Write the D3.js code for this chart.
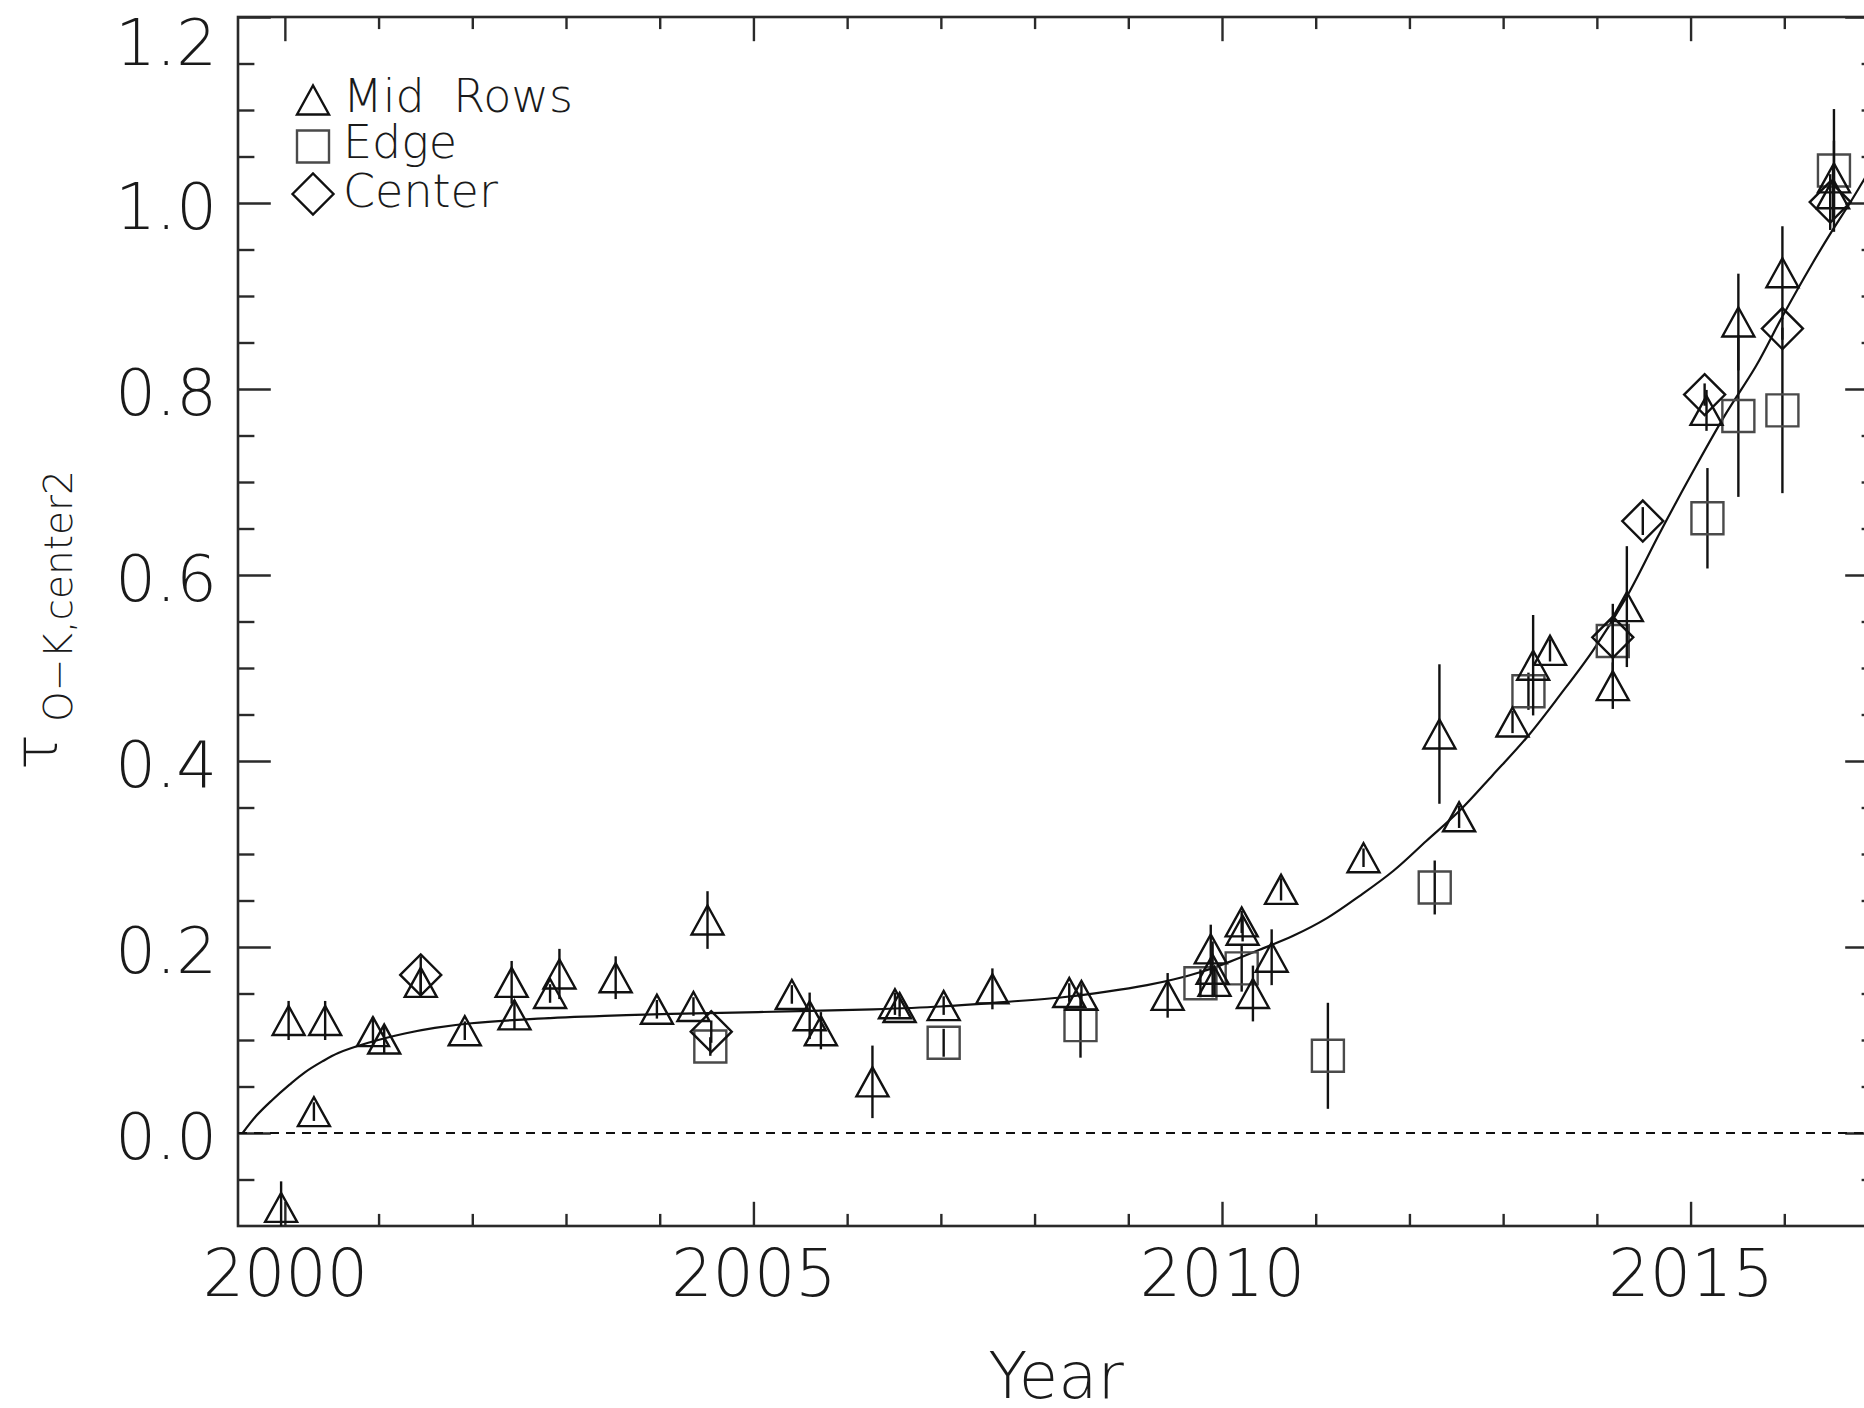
<!DOCTYPE html>
<html>
<head>
<meta charset="utf-8">
<script src="https://cdn.jsdelivr.net/npm/d3@7"></script>
<style>
  html, body { margin: 0; padding: 0; background: #fff; }
  svg { display: block; }
  text { font-family: "DejaVu Sans", "Liberation Sans", sans-serif; font-weight: 200; fill: #1a1a1a; }
</style>
</head>
<body>
<svg id="chart" width="1864" height="1408"></svg>
<script>
// Measurements: [year, tau, 1-sigma error]
const midRows = [
  [1999.96, -0.080, 0.028], [2000.04, 0.121, 0.021], [2000.43, 0.121, 0.021],
  [2000.31, 0.023, 0.010], [2000.94, 0.109, 0.016], [2001.06, 0.101, 0.015],
  [2001.45, 0.162, 0.015], [2001.92, 0.110, 0.010], [2002.42, 0.162, 0.023],
  [2002.45, 0.127, 0.016], [2002.83, 0.150, 0.010], [2002.93, 0.171, 0.027],
  [2003.53, 0.167, 0.023], [2003.97, 0.133, 0.010], [2004.36, 0.136, 0.010],
  [2004.51, 0.229, 0.031], [2005.41, 0.149, 0.010], [2005.60, 0.126, 0.025],
  [2005.72, 0.110, 0.020], [2006.27, 0.055, 0.039], [2006.51, 0.139, 0.012],
  [2006.56, 0.135, 0.010], [2007.03, 0.137, 0.010], [2007.55, 0.155, 0.022],
  [2008.37, 0.151, 0.010], [2008.50, 0.148, 0.012], [2009.42, 0.148, 0.024],
  [2009.88, 0.198, 0.026], [2009.90, 0.176, 0.030], [2009.92, 0.163, 0.015],
  [2010.21, 0.227, 0.012], [2010.22, 0.218, 0.012], [2010.33, 0.150, 0.030],
  [2010.53, 0.189, 0.030], [2010.63, 0.262, 0.012], [2011.51, 0.296, 0.010],
  [2012.32, 0.429, 0.075], [2012.53, 0.340, 0.012], [2013.10, 0.442, 0.012],
  [2013.32, 0.503, 0.054], [2013.50, 0.519, 0.012], [2014.17, 0.481, 0.025],
  [2014.32, 0.566, 0.065], [2015.17, 0.777, 0.022], [2015.51, 0.872, 0.052],
  [2015.98, 0.925, 0.050], [2016.53, 1.027, 0.040], [2016.52, 1.010, 0.030]
];
const edge = [
  [2004.54, 0.093, 0.010], [2007.03, 0.097, 0.015], [2008.49, 0.116, 0.035],
  [2009.77, 0.161, 0.015], [2010.21, 0.177, 0.025], [2011.13, 0.083, 0.057],
  [2012.27, 0.264, 0.029], [2013.27, 0.475, 0.020], [2014.17, 0.529, 0.040],
  [2015.18, 0.661, 0.054], [2015.51, 0.771, 0.087], [2015.98, 0.777, 0.089],
  [2016.53, 1.035, 0.066]
];
const center = [
  [2001.45, 0.170, 0.020], [2004.55, 0.109, 0.012], [2014.17, 0.533, 0.020],
  [2014.49, 0.658, 0.015], [2015.15, 0.794, 0.012], [2015.98, 0.865, 0.012],
  [2016.49, 1.001, 0.030]
];

// Fitted trend: [year, tau]
const fitCurve = [
  [1999.55, 0.000], [1999.70, 0.019], [1999.86, 0.035], [2000.05, 0.052],
  [2000.21, 0.065], [2000.40, 0.077], [2000.57, 0.086], [2000.89, 0.097],
  [2001.28, 0.107], [2001.60, 0.113], [2001.99, 0.118], [2002.70, 0.123],
  [2003.41, 0.126], [2004.12, 0.128], [2005.05, 0.130], [2006.28, 0.133],
  [2007.00, 0.136], [2007.70, 0.141], [2008.30, 0.146], [2008.77, 0.152],
  [2009.20, 0.159], [2009.48, 0.165], [2009.80, 0.174], [2010.08, 0.184],
  [2010.40, 0.197], [2010.76, 0.212], [2011.12, 0.231], [2011.47, 0.255],
  [2011.83, 0.282], [2012.18, 0.314], [2012.54, 0.347], [2012.89, 0.385],
  [2013.25, 0.425], [2013.60, 0.470], [2013.96, 0.519], [2014.32, 0.577],
  [2014.67, 0.645], [2015.03, 0.712], [2015.38, 0.774], [2015.70, 0.825],
  [2015.98, 0.878], [2016.30, 0.935], [2016.51, 0.970], [2016.70, 1.000],
  [2016.85, 1.025], [2017.00, 1.050]
];

const xMajorTicks = [2000, 2005, 2010, 2015];
const yMajorTicks = [0.0, 0.2, 0.4, 0.6, 0.8, 1.0, 1.2];
const legendLabels = ["Mid Rows", "Edge", "Center"];
const xTitle = "Year";

// ---- layout ----
const plot = { left: 238, right: 1878, top: 17, bottom: 1226 };
const x = d3.scaleLinear().domain([1999.5, 2017]).range([plot.left, plot.right]);
const y = d3.scaleLinear().domain([-0.1, 1.2]).range([plot.bottom, plot.top]);
const H = plot.bottom - plot.top, W = plot.right - plot.left;
const xMajorLen = 24.2, xMinorLen = 12.1, yMajorLen = 32.8, yMinorLen = 16.4;

const svg = d3.select("#chart");

svg.append("defs").append("clipPath").attr("id", "plotClip")
  .append("rect").attr("x", plot.left).attr("y", plot.top).attr("width", W).attr("height", H);

const xMinorTicks = d3.range(2000, 2018).filter(v => !xMajorTicks.includes(v));
const yMinorTicks = d3.range(-0.05, 1.2, 0.05).map(v => +v.toFixed(2))
  .filter(v => !yMajorTicks.some(m => Math.abs(m - v) < 1e-6));

function styleAxis(g) {
  g.select(".domain").remove();
  g.selectAll(".tick line").attr("stroke", "#2a2a2a").attr("stroke-width", 2.4);
}

// bottom axis (labelled)
const gBottom = svg.append("g").attr("transform", `translate(0,${plot.bottom})`)
  .call(d3.axisBottom(x).tickValues(xMajorTicks).tickSize(-xMajorLen).tickFormat(d3.format("d")));
styleAxis(gBottom);
gBottom.selectAll("text").attr("y", 70).attr("dy", 0)
  .style("font-size", "65px").attr("fill", "#1a1a1a");
svg.append("g").attr("transform", `translate(0,${plot.bottom})`)
  .call(d3.axisBottom(x).tickValues(xMinorTicks).tickSize(-xMinorLen).tickFormat(""))
  .call(styleAxis);

// top axis
svg.append("g").attr("transform", `translate(0,${plot.top})`)
  .call(d3.axisTop(x).tickValues(xMajorTicks).tickSize(-xMajorLen).tickFormat(""))
  .call(styleAxis);
svg.append("g").attr("transform", `translate(0,${plot.top})`)
  .call(d3.axisTop(x).tickValues(xMinorTicks).tickSize(-xMinorLen).tickFormat(""))
  .call(styleAxis);

// left axis (labelled); the topmost label sits just inside the page
const gLeft = svg.append("g").attr("transform", `translate(${plot.left},0)`)
  .call(d3.axisLeft(y).tickValues(yMajorTicks).tickSize(-yMajorLen).tickPadding(21).tickFormat(d3.format(".1f")));
styleAxis(gLeft);
gLeft.selectAll("text")
  .attr("dy", d => (d === 1.2 ? "47px" : "25px"))
  .style("font-size", "64px").attr("fill", "#1a1a1a");
svg.append("g").attr("transform", `translate(${plot.left},0)`)
  .call(d3.axisLeft(y).tickValues(yMinorTicks).tickSize(-yMinorLen).tickFormat(""))
  .call(styleAxis);

// right axis
svg.append("g").attr("transform", `translate(${plot.right},0)`)
  .call(d3.axisRight(y).tickValues(yMajorTicks).tickSize(-yMajorLen).tickFormat(""))
  .call(styleAxis);
svg.append("g").attr("transform", `translate(${plot.right},0)`)
  .call(d3.axisRight(y).tickValues(yMinorTicks).tickSize(-yMinorLen).tickFormat(""))
  .call(styleAxis);

// frame
svg.append("rect").attr("x", plot.left).attr("y", plot.top).attr("width", W).attr("height", H)
  .attr("fill", "none").attr("stroke", "#2a2a2a").attr("stroke-width", 2.6);

const data = svg.append("g").attr("clip-path", "url(#plotClip)");

// zero reference line
data.append("line")
  .attr("x1", x(1999.5)).attr("x2", x(2017)).attr("y1", y(0)).attr("y2", y(0))
  .attr("stroke", "#111").attr("stroke-width", 2.2).attr("stroke-dasharray", "9,7");

// fitted trend
data.append("path").datum(fitCurve)
  .attr("fill", "none").attr("stroke", "#111").attr("stroke-width", 2.2)
  .attr("d", d3.line().x(d => x(d[0])).y(d => y(d[1])).curve(d3.curveCatmullRom.alpha(0.5)));

// marker shapes
const triPath = (cx, cy) => `M${cx - 16},${cy + 14.5}L${cx},${cy - 14.5}L${cx + 16},${cy + 14.5}Z`;
const sqPath = (cx, cy) => `M${cx - 16},${cy - 16}H${cx + 16}V${cy + 16}H${cx - 16}Z`;
const diaPath = (cx, cy) => `M${cx - 20.5},${cy}L${cx},${cy - 20.5}L${cx + 20.5},${cy}L${cx},${cy + 20.5}Z`;

function drawSeries(rows, shape, color) {
  const g = data.append("g");
  g.selectAll("line.err").data(rows).join("line")
    .attr("class", "err")
    .attr("x1", d => x(d[0])).attr("x2", d => x(d[0]))
    .attr("y1", d => y(d[1] - d[2])).attr("y2", d => y(d[1] + d[2]))
    .attr("stroke", "#111").attr("stroke-width", 2.4);
  g.selectAll("path.mk").data(rows).join("path")
    .attr("class", "mk")
    .attr("d", d => shape(x(d[0]), y(d[1])))
    .attr("fill", "none").attr("stroke", color).attr("stroke-width", 2.4)
    .attr("stroke-linejoin", "miter");
}
drawSeries(edge, sqPath, "#4a4a4a");
drawSeries(midRows, triPath, "#111");
drawSeries(center, diaPath, "#111");

// legend
const legend = svg.append("g");
const legendShapes = [triPath, sqPath, diaPath];
const legendColors = ["#111", "#4a4a4a", "#111"];
const legendMarkY = [100, 146.5, 194];
const legendBase = [112, 158, 207];
legendLabels.forEach((lab, i) => {
  legend.append("path").attr("d", legendShapes[i](313, legendMarkY[i]))
    .attr("fill", "none").attr("stroke", legendColors[i]).attr("stroke-width", 2.4);
  legend.append("text").attr("x", 343).attr("y", legendBase[i])
    .style("font-size", "46px").style("word-spacing", "14px").text(lab);
});

// axis titles
svg.append("text").attr("x", (plot.left + plot.right) / 2 - 2).attr("y", 1398)
  .attr("text-anchor", "middle").style("font-size", "64px").text(xTitle);

const yTitle = svg.append("text").attr("transform", "translate(57,770) rotate(-90)");
yTitle.append("tspan").style("font-size", "60px").text("τ");
yTitle.append("tspan").attr("dx", 12).attr("dy", 15).style("font-size", "39px").text("O−K,center2");
</script>
</body>
</html>
